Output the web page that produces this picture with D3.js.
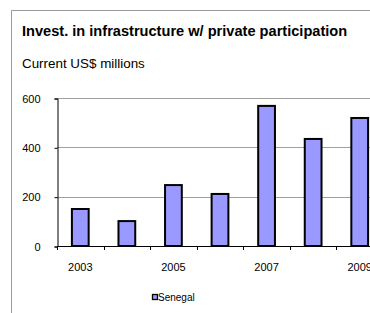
<!DOCTYPE html>
<html>
<head>
<meta charset="utf-8">
<script src="https://cdn.jsdelivr.net/npm/d3@7"></script>
<style>
  body { margin: 0; background: #fff; }
  svg { display: block; font-family: "Liberation Sans", Arial, sans-serif; }
</style>
</head>
<body>
<script>
  // data
  const years = ['2003', '2004', '2005', '2006', '2007', '2008', '2009'];
  const senegal = [150, 101, 247, 211, 568, 434, 519];
  const yTicks = [0, 200, 400, 600];
  const xLabels = ['2003', '2005', '2007', '2009'];

  const width = 370;
  const height = 313;
  const svg = d3.select('body').append('svg')
    .attr('width', width)
    .attr('height', height);

  // panel border
  svg.append('path')
    .attr('d', 'M11.5,313 V10.5 H370')
    .attr('fill', 'none')
    .attr('stroke', '#999');

  svg.append('text')
    .attr('x', 22).attr('y', 36)
    .attr('font-size', 14.6).attr('font-weight', 'bold')
    .text('Invest. in infrastructure w/ private participation');

  svg.append('text')
    .attr('x', 22).attr('y', 68)
    .attr('font-size', 13.4)
    .text('Current US$ millions');

  const x = d3.scaleBand()
    .domain(years)
    .range([57, 383])
    .paddingInner(0.64)
    .paddingOuter(0.32);

  const y = d3.scaleLinear()
    .domain([0, 600])
    .range([246, 98]);

  // gridlines
  svg.append('g')
    .selectAll('line')
    .data(yTicks.filter(d => d > 0))
    .join('line')
    .attr('x1', 57).attr('x2', width)
    .attr('y1', d => Math.round(y(d)) + 0.5)
    .attr('y2', d => Math.round(y(d)) + 0.5)
    .attr('stroke', '#a0a0a0');

  // y axis
  const yAxis = svg.append('g')
    .attr('transform', 'translate(57.5,0.5)')
    .call(d3.axisLeft(y).tickValues(yTicks).tickSize(3).tickPadding(14));
  yAxis.select('.domain').attr('stroke', '#000');
  yAxis.selectAll('text')
    .attr('font-size', 11)
    .attr('font-family', '"Liberation Sans", Arial, sans-serif')
    .attr('fill', '#000');

  // bars
  svg.append('g')
    .selectAll('rect')
    .data(senegal)
    .join('rect')
    .attr('x', (d, i) => x(years[i]))
    .attr('y', d => y(d))
    .attr('width', x.bandwidth())
    .attr('height', d => y(0) - y(d))
    .attr('fill', '#9999ff')
    .attr('stroke', '#000')
    .attr('stroke-width', 2);

  // x axis
  const step = x.step();
  const bounds = d3.range(years.length + 1).map(i => 57 + i * step);
  svg.append('line')
    .attr('x1', 57).attr('x2', width)
    .attr('y1', 246.5).attr('y2', 246.5)
    .attr('stroke', '#000');
  svg.append('g')
    .selectAll('line')
    .data(bounds)
    .join('line')
    .attr('x1', d => Math.round(d) + 0.5)
    .attr('x2', d => Math.round(d) + 0.5)
    .attr('y1', 246).attr('y2', 250)
    .attr('stroke', '#000');

  svg.append('g')
    .selectAll('text')
    .data(xLabels)
    .join('text')
    .attr('x', d => x(d) + x.bandwidth() / 2)
    .attr('y', 271)
    .attr('text-anchor', 'middle')
    .attr('font-size', 11)
    .text(d => d);

  // legend
  const legend = svg.append('g').attr('transform', 'translate(152,294)');
  legend.append('rect')
    .attr('x', 0.5).attr('y', 0.5)
    .attr('width', 5).attr('height', 5)
    .attr('fill', '#9999ff')
    .attr('stroke', '#000')
    .attr('stroke-width', 1.3);
  legend.append('text')
    .attr('x', 6).attr('y', 6.5)
    .attr('font-size', 10)
    .text('Senegal');
</script>
</body>
</html>
